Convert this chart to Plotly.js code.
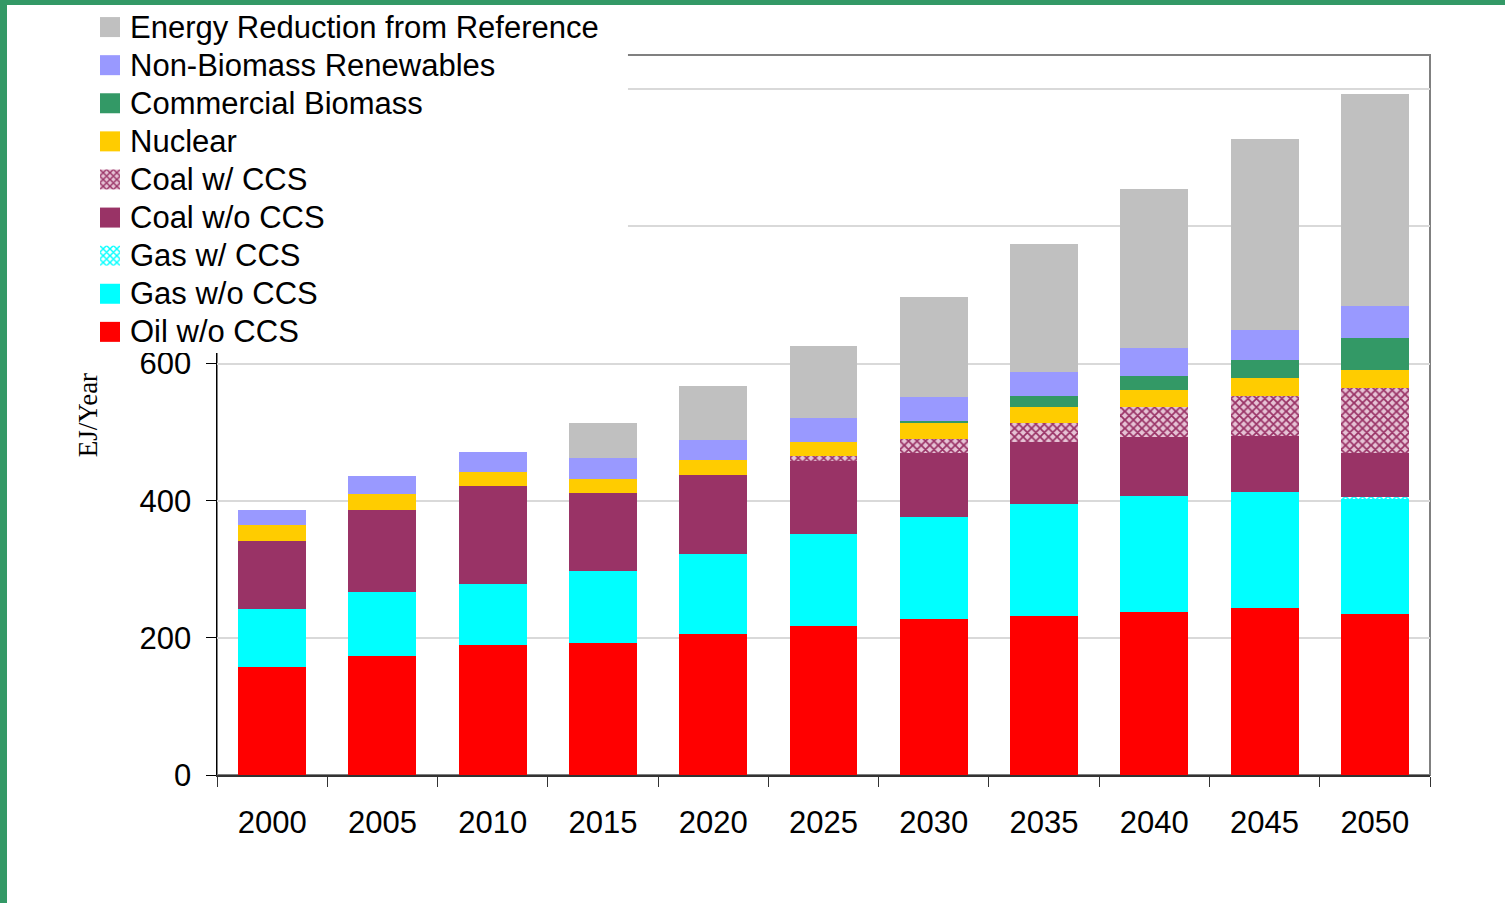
<!DOCTYPE html>
<html>
<head>
<meta charset="utf-8">
<script src="https://cdn.plot.ly/plotly-3.0.1.min.js"></script>
<style>
  html, body { margin: 0; padding: 0; background: #339966; }
  #energyChart { position: absolute; left: 7px; top: 5px; width: 1498px; height: 898px; background: #ffffff; }
</style>
</head>
<body>
<div id="energyChart"></div>
<script>
'use strict'
var years = ['2000', '2005', '2010', '2015', '2020', '2025', '2030', '2035', '2040', '2045', '2050'];
var seriesNames = ['Oil w/o CCS', 'Gas w/o CCS', 'Gas w/ CCS', 'Coal w/o CCS', 'Coal w/ CCS',
                   'Nuclear', 'Commercial Biomass', 'Non-Biomass Renewables', 'Energy Reduction from Reference'];
var oil = [157, 174, 189, 192, 206, 218, 227, 232, 238, 244, 235];
var gas = [85, 93, 90, 105, 117, 134, 149, 163, 169, 169, 167];
var gasCCS = [0, 0, 0, 0, 0, 0, 0, 0, 0, 0, 3];
var coal = [99, 120, 143, 114, 114, 106, 94, 91, 86, 82, 65];
var coalCCS = [0, 0, 0, 0, 0, 7, 20, 28, 44, 58, 95];
var nuclear = [23, 23, 20, 20, 23, 21, 23, 23, 25, 26, 26];
var biomass = [0, 0, 0, 0, 0, 0, 3, 15, 20, 26, 47];
var renewables = [23, 26, 29, 32, 29, 35, 35, 35, 41, 44, 46];
var reduction = [0, 0, 0, 51, 79, 105, 146, 187, 231, 279, 309];
// gridlines go up to 1000, the upper labels sit behind the legend in the original
var yTickVals = [0, 200, 400, 600, 800, 1000];
var yTickText = ['0', '200', '400', '600', '', ''];

var seriesValues = [oil, gas, gasCCS, coal, coalCCS, nuclear, biomass, renewables, reduction];
var seriesColors = ['#ff0000', '#00ffff', '#ffffff', '#993366', '#ffffff', '#ffcc00', '#339966', '#9999ff', '#c0c0c0'];
// hatched series: index -> [pattern colour, background]
var hatched = {2: ['#00ffff', '#ffffff'], 4: ['#993366', '#e6c3d5']};

var font = 'Liberation Sans, Arial, sans-serif';

/* legend rows are spaced by the legend font, the text itself is drawn a bit larger */
function legendName(name){
  return '<span style="font-size:31px">' + name + '</span>';
}

function drawEnergy(){
  var graphData = [];
  for(var i = 0; i < seriesValues.length; i++){
    var trace = {
      type: 'bar',
      name: legendName(seriesNames[i]),
      x: years,
      y: seriesValues[i],
      marker: {color: seriesColors[i], line: {width: 0}},
      hoverinfo: 'skip'
    };
    if(hatched[i]){
      trace.marker.pattern = {
        shape: 'x',
        fgcolor: hatched[i][0],
        bgcolor: hatched[i][1],
        size: 6,
        solidity: 0.5,
        fillmode: 'replace'
      };
    }
    graphData.push(trace);
  }

  var layout = {
    width: 1498,
    height: 898,
    margin: {l: 210, r: 75, t: 50, b: 128, pad: 0, autoexpand: false},
    paper_bgcolor: '#ffffff',
    plot_bgcolor: '#ffffff',
    barmode: 'stack',
    bargap: 0.384,
    font: {family: font, size: 31, color: '#000000'},
    showlegend: true,
    legend: {
      traceorder: 'reversed',
      x: -0.1047,
      xanchor: 'left',
      y: 1.0722,
      yanchor: 'top',
      bgcolor: 'rgba(0,0,0,0)',
      borderwidth: 0,
      font: {family: font, size: 27, color: '#000000'}
    },
    xaxis: {
      type: 'category',
      tickson: 'boundaries',
      ticks: 'outside',
      ticklen: 10,
      tickwidth: 1,
      tickcolor: '#333333',
      showline: true,
      linecolor: '#333333',
      linewidth: 1.5,
      showgrid: false,
      tickfont: {family: font, size: 31, color: '#000000'},
      ticklabelstandoff: 19
    },
    yaxis: {
      range: [0, 1050],
      tickmode: 'array',
      tickvals: yTickVals,
      ticktext: yTickText,
      ticks: 'outside',
      ticklen: 10,
      tickwidth: 1,
      tickcolor: '#000000',
      showline: true,
      linecolor: '#000000',
      linewidth: 1.5,
      showgrid: true,
      gridcolor: '#d9d9d9',
      gridwidth: 2,
      zeroline: false,
      tickfont: {family: font, size: 31, color: '#000000'},
      ticklabelstandoff: 8,
      title: {
        text: 'EJ/Year',
        standoff: 34,
        font: {family: 'Liberation Serif, Times New Roman, serif', size: 27, color: '#000000'}
      }
    },
    shapes: [
      // plot frame, grey on top and right
      {type: 'rect', xref: 'paper', yref: 'paper', x0: 0, x1: 1, y0: 0, y1: 1,
       line: {color: '#808080', width: 2}, layer: 'below'},
      // white box behind the legend, it hides the upper axis part
      {type: 'rect', xref: 'paper', yref: 'paper', x0: -0.1731, x1: 0.3388, y0: 0.586, y1: 1.0694,
       fillcolor: '#ffffff', line: {width: 0}, layer: 'above'}
    ]
  };
  Plotly.newPlot('energyChart', graphData, layout, {displayModeBar: false, staticPlot: true}).then(function(){
    /* bigger legend squares, like the original */
    var icons = document.querySelectorAll('#energyChart .legendpoints path');
    for(var k = 0; k < icons.length; k++){
      icons[k].setAttribute('d', 'M10,10H-10V-10H10Z');
    }
  });
}

drawEnergy();
</script>
</body>
</html>
